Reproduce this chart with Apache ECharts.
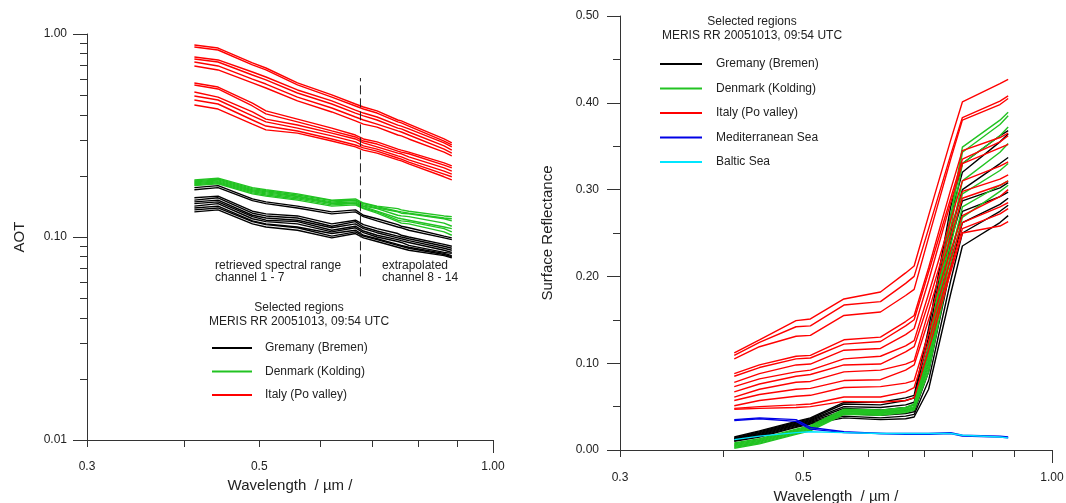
<!DOCTYPE html>
<html><head><meta charset="utf-8">
<script src="https://cdn.jsdelivr.net/npm/echarts@6/dist/echarts.min.js"></script>
<style>html,body{margin:0;padding:0;background:#fff}#c{width:1066px;height:503px}</style>
</head><body><div id="c"></div>
<script>
// ---------- Left panel: AOT ----------
const wavelengthsAOT = [0.4125,0.4425,0.490,0.510,0.560,0.620,0.665,0.681,0.709,0.754,0.762,0.779,0.865,0.885];
const aotGermany = [
 [.175,.179,.154,.149,.142,.133,.136,.128,.123,.115,.113,.111,.101,.099],
 [.171,.175,.151,.146,.139,.130,.133,.126,.120,.112,.111,.108,.099,.097],
 [.156,.159,.134,.130,.127,.116,.121,.115,.110,.104,.102,.100,.092,.090],
 [.152,.156,.131,.127,.124,.113,.119,.112,.107,.101,.100,.098,.090,.088],
 [.149,.152,.128,.124,.121,.111,.116,.110,.105,.099,.098,.096,.088,.086],
 [.146,.149,.126,.121,.119,.108,.113,.107,.102,.097,.096,.094,.086,.084],
 [.142,.146,.123,.119,.116,.106,.111,.105,.100,.095,.094,.091,.084,.083],
 [.139,.142,.120,.116,.112,.104,.108,.102,.098,.092,.091,.089,.083,.081],
 [.136,.139,.119,.115,.111,.101,.106,.101,.097,.091,.090,.088,.082,.080],
 [.133,.136,.116,.112,.108,.099,.104,.099,.095,.089,.088,.086,.081,.079]
];
const aotDenmark = [
 [.191,.195,.175,.171,.163,.152,.154,.147,.142,.138,.136,.134,.127,.126],
 [.189,.193,.173,.169,.161,.151,.152,.146,.141,.134,.133,.131,.124,.123],
 [.187,.191,.171,.167,.159,.149,.151,.144,.139,.133,.131,.130,.123,.120],
 [.185,.189,.169,.165,.158,.147,.149,.142,.138,.128,.127,.126,.117,.113],
 [.183,.187,.167,.163,.156,.146,.147,.141,.134,.124,.123,.121,.112,.110],
 [.181,.185,.165,.161,.154,.144,.146,.139,.133,.121,.120,.119,.110,.106],
 [.179,.183,.163,.159,.152,.142,.144,.138,.131,.119,.117,.116,.106,.102]
];
const aotItaly = [
 [.883,.853,.720,.680,.574,.501,.452,.437,.418,.377,.373,.360,.304,.291],
 [.863,.834,.704,.665,.561,.489,.442,.427,.408,.369,.365,.352,.297,.284],
 [.770,.745,.650,.614,.530,.468,.422,.408,.390,.356,.352,.341,.291,.278],
 [.753,.728,.628,.594,.512,.452,.408,.395,.377,.344,.341,.329,.281,.268],
 [.728,.696,.600,.567,.489,.432,.390,.377,.360,.333,.329,.318,.271,.259],
 [.696,.665,.574,.542,.468,.413,.373,.360,.348,.318,.315,.304,.262,.251],
 [.574,.548,.457,.418,.381,.344,.318,.304,.294,.271,.268,.262,.232,.224],
 [.561,.536,.442,.404,.369,.333,.311,.297,.287,.265,.262,.257,.226,.219],
 [.518,.489,.413,.381,.356,.325,.304,.291,.278,.259,.257,.248,.219,.211],
 [.495,.473,.395,.369,.344,.315,.294,.281,.271,.251,.248,.240,.211,.204],
 [.473,.452,.377,.352,.333,.304,.284,.275,.265,.245,.242,.234,.204,.198],
 [.447,.427,.360,.337,.325,.297,.278,.268,.259,.240,.237,.229,.198,.191]
];
const separatorWavelength = 0.675;
const separatorAOT = [0.064, 0.607];

// ---------- Right panel: surface reflectance ----------
const wavelengthsRefl = [0.4125,0.4425,0.490,0.510,0.560,0.620,0.665,0.681,0.709,0.754,0.779,0.865,0.885];
const reflGermany = [
 [.015,.022,.033,.037,.055,.055,.060,.063,.140,.280,.330,.362,.368],
 [.014,.021,.032,.036,.053,.052,.057,.060,.130,.270,.320,.355,.364],
 [.013,.020,.031,.035,.050,.049,.052,.055,.120,.250,.300,.330,.337],
 [.013,.019,.030,.034,.048,.046,.049,.052,.110,.240,.287,.302,.308],
 [.012,.018,.029,.033,.045,.043,.046,.048,.100,.225,.275,.292,.297],
 [.011,.017,.028,.032,.042,.040,.042,.044,.090,.210,.262,.283,.290],
 [.011,.016,.027,.031,.039,.037,.039,.041,.080,.195,.250,.275,.282],
 [.010,.015,.026,.030,.037,.035,.036,.038,.070,.180,.235,.262,.270]
];
const reflDenmark = [
 [.008,.013,.024,.028,.047,.046,.049,.053,.120,.270,.349,.380,.389],
 [.007,.012,.023,.027,.046,.045,.048,.052,.115,.265,.343,.375,.385],
 [.006,.011,.022,.026,.045,.044,.047,.050,.110,.255,.330,.362,.372],
 [.005,.010,.021,.025,.044,.043,.046,.049,.105,.245,.310,.343,.353],
 [.004,.009,.020,.024,.043,.042,.045,.048,.100,.235,.295,.322,.330],
 [.003,.008,.019,.023,.042,.041,.044,.047,.095,.225,.280,.305,.310],
 [.002,.007,.018,.022,.041,.040,.043,.046,.090,.215,.268,.298,.305]
];
const reflItaly = [
 [.112,.127,.149,.151,.174,.182,.204,.212,.270,.357,.401,.422,.427],
 [.109,.124,.142,.143,.167,.171,.192,.200,.255,.340,.383,.402,.408],
 [.105,.119,.131,.132,.155,.159,.178,.185,.245,.335,.380,.398,.405],
 [.088,.098,.108,.109,.127,.130,.148,.155,.210,.300,.345,.360,.365],
 [.085,.095,.105,.106,.122,.125,.143,.150,.205,.290,.335,.355,.362],
 [.078,.088,.098,.099,.115,.117,.133,.140,.195,.285,.330,.348,.352],
 [.073,.082,.090,.092,.105,.108,.120,.126,.180,.265,.310,.327,.332],
 [.067,.076,.085,.087,.098,.099,.113,.119,.170,.255,.298,.312,.317],
 [.061,.070,.078,.079,.090,.092,.099,.103,.160,.245,.290,.305,.310],
 [.057,.064,.070,.071,.080,.081,.092,.098,.150,.230,.270,.292,.300],
 [.051,.057,.062,.063,.072,.073,.077,.080,.135,.220,.262,.280,.285],
 [.048,.050,.052,.053,.061,.061,.067,.072,.125,.210,.255,.272,.278],
 [.047,.048,.049,.050,.056,.055,.057,.060,.115,.205,.250,.258,.263]
];
const reflMediterranean = [
 [.035,.037,.035,.026,.021,.019,.019,.019,.019,.020,.017,.016,.015],
 [.034,.036,.033,.024,.020,.019,.018,.018,.018,.019,.016,.015,.014]
];
const reflBaltic = [
 [.012,.016,.020,.021,.020,.019,.019,.019,.019,.019,.017,.015,.014]
];

// ---------- Ticks ----------
const xTickValues = [0.3,0.4,0.5,0.6,0.7,0.8,0.9,1.0];
const xLabelValues = [0.3,0.5,1.0];
const aotMajorTicks = [0.01,0.1,1];
const aotMinorTicks = [0.02,0.03,0.04,0.05,0.06,0.07,0.08,0.09,0.2,0.3,0.4,0.5,0.6,0.7,0.8,0.9];
const reflMajorTicks = [0,0.1,0.2,0.3,0.4,0.5];
const reflMinorTicks = [0.05,0.15,0.25,0.35,0.45];

const NAMES = {de:'Gremany (Bremen)', dk:'Denmark (Kolding)', it:'Italy (Po valley)', med:'Mediterranean Sea', bal:'Baltic Sea'};
const COLORS = {de:'#000000', dk:'#22c322', it:'#ff0000', med:'#0000e6', bal:'#00e6ff'};
const FONT = '"Liberation Sans", Arial, Helvetica, sans-serif';
const TXT = '#222';

function lineSeries(lines, wl, key, gi) {
  return lines.map(vals => ({
    type:'line', name:NAMES[key], xAxisIndex: gi*2, yAxisIndex: gi*2,
    data: vals.map((v,i)=>[wl[i], v]), symbol:'none', silent:true,
    lineStyle:{color:COLORS[key], width:1.4}, itemStyle:{color:COLORS[key]}, z:3
  }));
}

const xFmt = v => (Math.abs(v-1)<1e-9 ? '1.00' : String(+v.toFixed(2)));
const axLine = {lineStyle:{color:'#333', width:1}};

function xAxes(gi, margin, gap) {
  return [
    {gridIndex:gi, type:'log', min:0.3, max:1.0, position:'bottom',
     axisLine:axLine, splitLine:{show:false}, minorTick:{show:false},
     axisTick:{customValues:xTickValues, length:7, lineStyle:{color:'#333'}},
     axisLabel:{customValues:xLabelValues, formatter:xFmt, margin:margin, fontSize:12, color:TXT, fontFamily:FONT},
     name:'Wavelength  / µm /', nameLocation:'middle', nameGap:gap,
     nameTextStyle:{fontSize:15, color:TXT, fontFamily:FONT}},
    {gridIndex:gi, type:'log', min:0.3, max:1.0, position:'bottom',
     axisLine:{show:false}, splitLine:{show:false},
     axisTick:{customValues:[1.0], length:13, lineStyle:{color:'#333'}},
     axisLabel:{show:false}}
  ];
}

const option = {
  animation:false,
  backgroundColor:'#fff',
  grid:[
    {left:87, top:34, width:406, height:406, outerBoundsMode:'none', containLabel:false},
    {left:620, top:16, width:432, height:434, outerBoundsMode:'none', containLabel:false}
  ],
  xAxis:[...xAxes(0,21,37), ...xAxes(1,22,36)],
  yAxis:[
    {gridIndex:0, type:'log', min:0.01, max:1, position:'left',
     axisLine:axLine, splitLine:{show:false}, minorTick:{show:false},
     axisTick:{customValues:aotMajorTicks, length:14, lineStyle:{color:'#333'}},
     axisLabel:{customValues:aotMajorTicks, formatter:v=>v.toFixed(2), margin:20, fontSize:12, color:TXT, fontFamily:FONT},
     name:'AOT', nameLocation:'middle', nameGap:60,
     nameTextStyle:{fontSize:15, color:TXT, fontFamily:FONT}},
    {gridIndex:0, type:'log', min:0.01, max:1, position:'left',
     axisLine:{show:false}, splitLine:{show:false},
     axisTick:{customValues:aotMinorTicks, length:7, lineStyle:{color:'#333'}},
     axisLabel:{show:false}},
    {gridIndex:1, type:'value', min:0, max:0.5, position:'left',
     axisLine:{show:true, lineStyle:{color:'#333', width:1}}, splitLine:{show:false},
     axisTick:{customValues:reflMajorTicks, length:13, lineStyle:{color:'#333'}},
     axisLabel:{customValues:reflMajorTicks, formatter:v=>v.toFixed(2), margin:21, fontSize:12, color:TXT, fontFamily:FONT},
     name:'Surface Reflectance', nameLocation:'middle', nameGap:65,
     nameTextStyle:{fontSize:15, color:TXT, fontFamily:FONT}},
    {gridIndex:1, type:'value', min:0, max:0.5, position:'left',
     axisLine:{show:false}, splitLine:{show:false},
     axisTick:{customValues:reflMinorTicks, length:7, lineStyle:{color:'#333'}},
     axisLabel:{show:false}}
  ],
  legend:[
    {data:[NAMES.de, NAMES.dk, NAMES.it], orient:'vertical', left:212, top:342,
     icon:'rect', itemWidth:40, itemHeight:2, itemGap:11.5, padding:0, selectedMode:false,
     textStyle:{fontSize:12, color:TXT, fontFamily:FONT, padding:[0,0,0,8]}},
    {data:[NAMES.de, NAMES.dk, NAMES.it, NAMES.med, NAMES.bal], orient:'vertical', left:660, top:58,
     icon:'rect', itemWidth:42, itemHeight:2, itemGap:12.5, padding:0, selectedMode:false,
     textStyle:{fontSize:12, color:TXT, fontFamily:FONT, padding:[0,0,0,9]}}
  ],
  graphic:[
    {type:'text', x:299, y:308, style:{text:'Selected regions', font:'12px '+FONT, fill:TXT, align:'center', verticalAlign:'middle'}},
    {type:'text', x:299, y:322, style:{text:'MERIS RR 20051013, 09:54 UTC', font:'12px '+FONT, fill:TXT, align:'center', verticalAlign:'middle'}},
    {type:'text', x:752, y:22, style:{text:'Selected regions', font:'12px '+FONT, fill:TXT, align:'center', verticalAlign:'middle'}},
    {type:'text', x:752, y:36, style:{text:'MERIS RR 20051013, 09:54 UTC', font:'12px '+FONT, fill:TXT, align:'center', verticalAlign:'middle'}},
    {type:'text', x:215, y:260, style:{text:'retrieved spectral range\nchannel 1 - 7', font:'12px '+FONT, fill:TXT, lineHeight:12}},
    {type:'text', x:382, y:260, style:{text:'extrapolated\nchannel 8 - 14', font:'12px '+FONT, fill:TXT, lineHeight:12}}
  ],
  series:[
    ...lineSeries(aotGermany, wavelengthsAOT, 'de', 0),
    ...lineSeries(aotDenmark, wavelengthsAOT, 'dk', 0),
    ...lineSeries(aotItaly, wavelengthsAOT, 'it', 0),
    {type:'line', name:'separator', xAxisIndex:0, yAxisIndex:0, symbol:'none', silent:true,
     data:separatorAOT.map(v=>[separatorWavelength, v]),
     lineStyle:{color:'#222', width:1, type:[9,4]}, z:4},
    ...lineSeries(reflGermany, wavelengthsRefl, 'de', 1),
    ...lineSeries(reflDenmark, wavelengthsRefl, 'dk', 1),
    ...lineSeries(reflItaly, wavelengthsRefl, 'it', 1),
    ...lineSeries(reflMediterranean, wavelengthsRefl, 'med', 1),
    ...lineSeries(reflBaltic, wavelengthsRefl, 'bal', 1)
  ]
};
const chart = echarts.init(document.getElementById('c'), null, {renderer:'canvas'});
chart.setOption(option);
</script>
</body></html>
